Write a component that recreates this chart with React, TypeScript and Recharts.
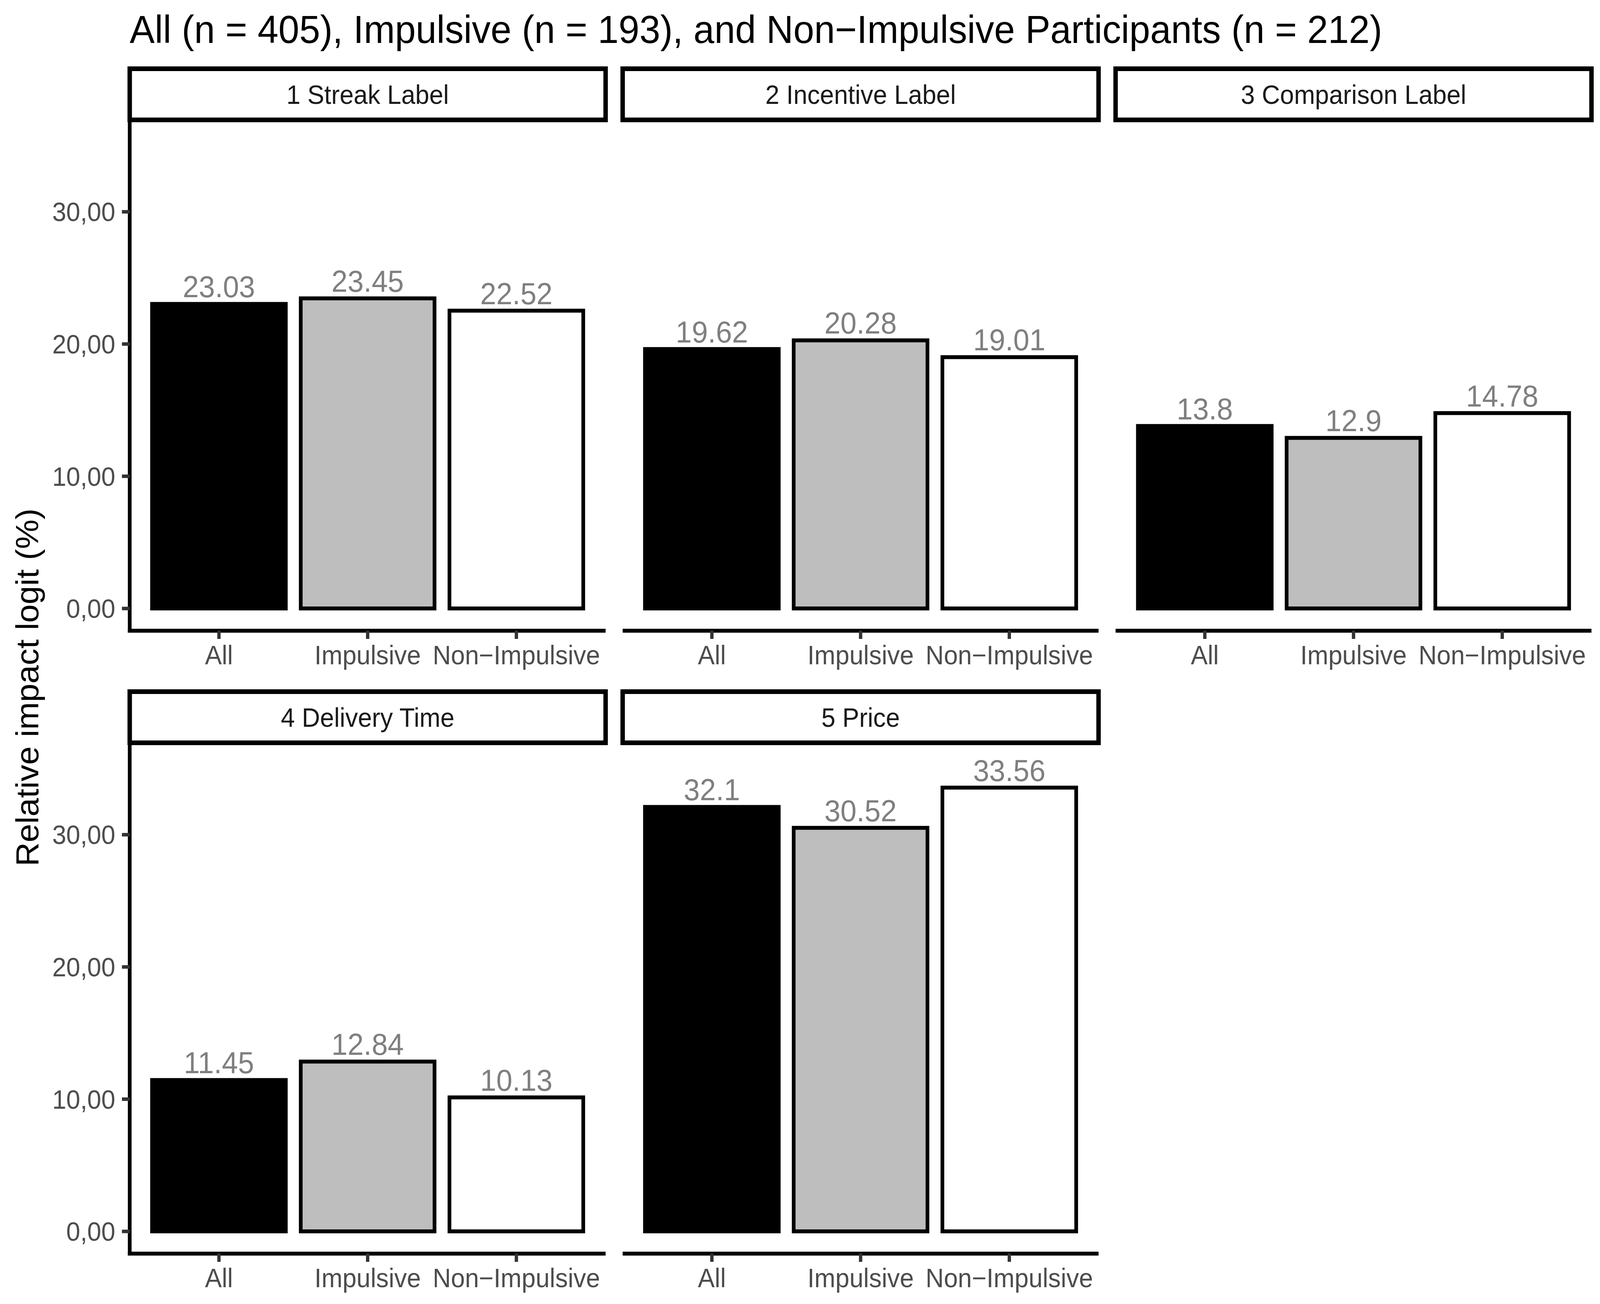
import React from "react";
import { BarChart, Bar, XAxis, YAxis, Cell, LabelList } from "recharts";

// ---------- data ----------
const categories = ["All", "Impulsive", "Non\u2212Impulsive"];
const facetTitles = [
  "1 Streak Label",
  "2 Incentive Label",
  "3 Comparison Label",
  "4 Delivery Time",
  "5 Price",
];
const streakValues = [23.03, 23.45, 22.52];
const incentiveValues = [19.62, 20.28, 19.01];
const comparisonValues = [13.8, 12.9, 14.78];
const deliveryValues = [11.45, 12.84, 10.13];
const priceValues = [32.1, 30.52, 33.56];
const yTickValues = [0, 10, 20, 30];
const yTickLabels = ["0,00", "10,00", "20,00", "30,00"];
const groupFills = ["#000000", "#bebebe", "#ffffff"];

const chartTitle =
  "All (n = 405), Impulsive (n = 193), and Non\u2212Impulsive Participants (n = 212)";
const yAxisTitle = "Relative impact logit (%)";

const facetValues = [streakValues, incentiveValues, comparisonValues, deliveryValues, priceValues];

// ---------- layout ----------
const W = 4317;
const H = 3339;
const FONT = "'Liberation Sans', Arial, Helvetica, sans-serif";
const COL_X = [350, 1680, 3010];
const PANEL_W = 1284;
const STRIP_TOP = [176, 1771];
const STRIP_H = 131;
const PANEL_H = 1308;
const X_AXIS_H = 170;
const Y_AXIS_W = 350;
const Y_DOMAIN: [number, number] = [-1.68, 36.95];
const CAT_PAD = (PANEL_W * 0.1) / 3.2;

function Facet({ index }: { index: number }) {
  const col = index % 3;
  const row = Math.floor(index / 3);
  const values = facetValues[index];
  const data = categories.map((g, i) => ({ group: g, value: values[i] }));
  const showY = col === 0;
  const left = showY ? COL_X[col] - Y_AXIS_W : COL_X[col];
  const width = showY ? PANEL_W + Y_AXIS_W : PANEL_W;
  const top = STRIP_TOP[row] + STRIP_H;
  return (
    <div style={{ position: "absolute", left, top, width, height: PANEL_H + X_AXIS_H }}>
      <BarChart
        width={width}
        height={PANEL_H + X_AXIS_H}
        data={data}
        margin={{ top: 0, right: 0, bottom: 0, left: 0 }}
        barCategoryGap="5%"
        style={{ overflow: "visible" }}
      >
        <XAxis
          dataKey="group"
          type="category"
          interval={0}
          padding={{ left: CAT_PAD, right: CAT_PAD }}
          height={X_AXIS_H}
          tickSize={21}
          tickMargin={17}
          axisLine={{ stroke: "#000", strokeWidth: 10, strokeLinecap: "square" }}
          tickLine={{ stroke: "#333", strokeWidth: 9 }}
          tick={{ fontSize: 68, fill: "#4d4d4d", fontFamily: FONT }}
        />
        <YAxis
          type="number"
          hide={!showY}
          domain={Y_DOMAIN}
          allowDataOverflow
          ticks={yTickValues}
          interval={0}
          width={Y_AXIS_W}
          tickSize={21}
          tickMargin={18}
          tickFormatter={(v: number) => yTickLabels[yTickValues.indexOf(v)] ?? String(v)}
          axisLine={{ stroke: "#000", strokeWidth: 10, strokeLinecap: "square" }}
          tickLine={{ stroke: "#333", strokeWidth: 9 }}
          tick={{ fontSize: 68, fill: "#4d4d4d", fontFamily: FONT }}
        />
        <Bar dataKey="value" stroke="#000" strokeWidth={10} isAnimationActive={false}>
          {data.map((d, i) => (
            <Cell key={d.group} fill={groupFills[i]} />
          ))}
          <LabelList
            dataKey="value"
            position="top"
            offset={17}
            fill="#7f7f7f"
            fontSize={78}
            fontFamily={FONT}
          />
        </Bar>
      </BarChart>
    </div>
  );
}

export default function App() {
  const vw = typeof window !== "undefined" && window.innerWidth > 0 ? window.innerWidth : W;
  const vh = typeof window !== "undefined" && window.innerHeight > 0 ? window.innerHeight : H;
  const sx = Math.min(1, vw / W);
  const sy = Math.min(1, vh / H);
  return (
    <div
      style={{
        position: "absolute",
        left: 0,
        top: 0,
        width: Math.round(W * sx),
        height: Math.round(H * sy),
        overflow: "hidden",
        background: "#fff",
      }}
    >
      <div
        style={{
          position: "absolute",
          left: 0,
          top: 0,
          width: W,
          height: H,
          background: "#fff",
          overflow: "hidden",
          fontFamily: FONT,
          transform: `scale(${sx}, ${sy})`,
          transformOrigin: "0 0",
        }}
      >
        {facetTitles.map((t, i) => (
          <Facet key={t} index={i} />
        ))}
        <svg
          width={W}
          height={H}
          style={{ position: "absolute", left: 0, top: 0, pointerEvents: "none" }}
        >
          <text x={350} y={110} fontSize={101} fill="#000" fontFamily={FONT}>
            {chartTitle}
          </text>
          <text
            x={103}
            y={1760}
            fontSize={85}
            fill="#000"
            fontFamily={FONT}
            textAnchor="middle"
            transform="rotate(-90 103 1760)"
          >
            {yAxisTitle}
          </text>
          {facetTitles.map((t, i) => {
            const col = i % 3;
            const row = Math.floor(i / 3);
            const x = COL_X[col];
            const y = STRIP_TOP[row];
            return (
              <g key={t}>
                <rect
                  x={x}
                  y={y}
                  width={PANEL_W}
                  height={STRIP_H}
                  fill="#fff"
                  stroke="#000"
                  strokeWidth={12}
                />
                <text
                  x={x + PANEL_W / 2}
                  y={y + 90}
                  fontSize={68}
                  fill="#1a1a1a"
                  fontFamily={FONT}
                  textAnchor="middle"
                >
                  {t}
                </text>
              </g>
            );
          })}
        </svg>
      </div>
    </div>
  );
}
